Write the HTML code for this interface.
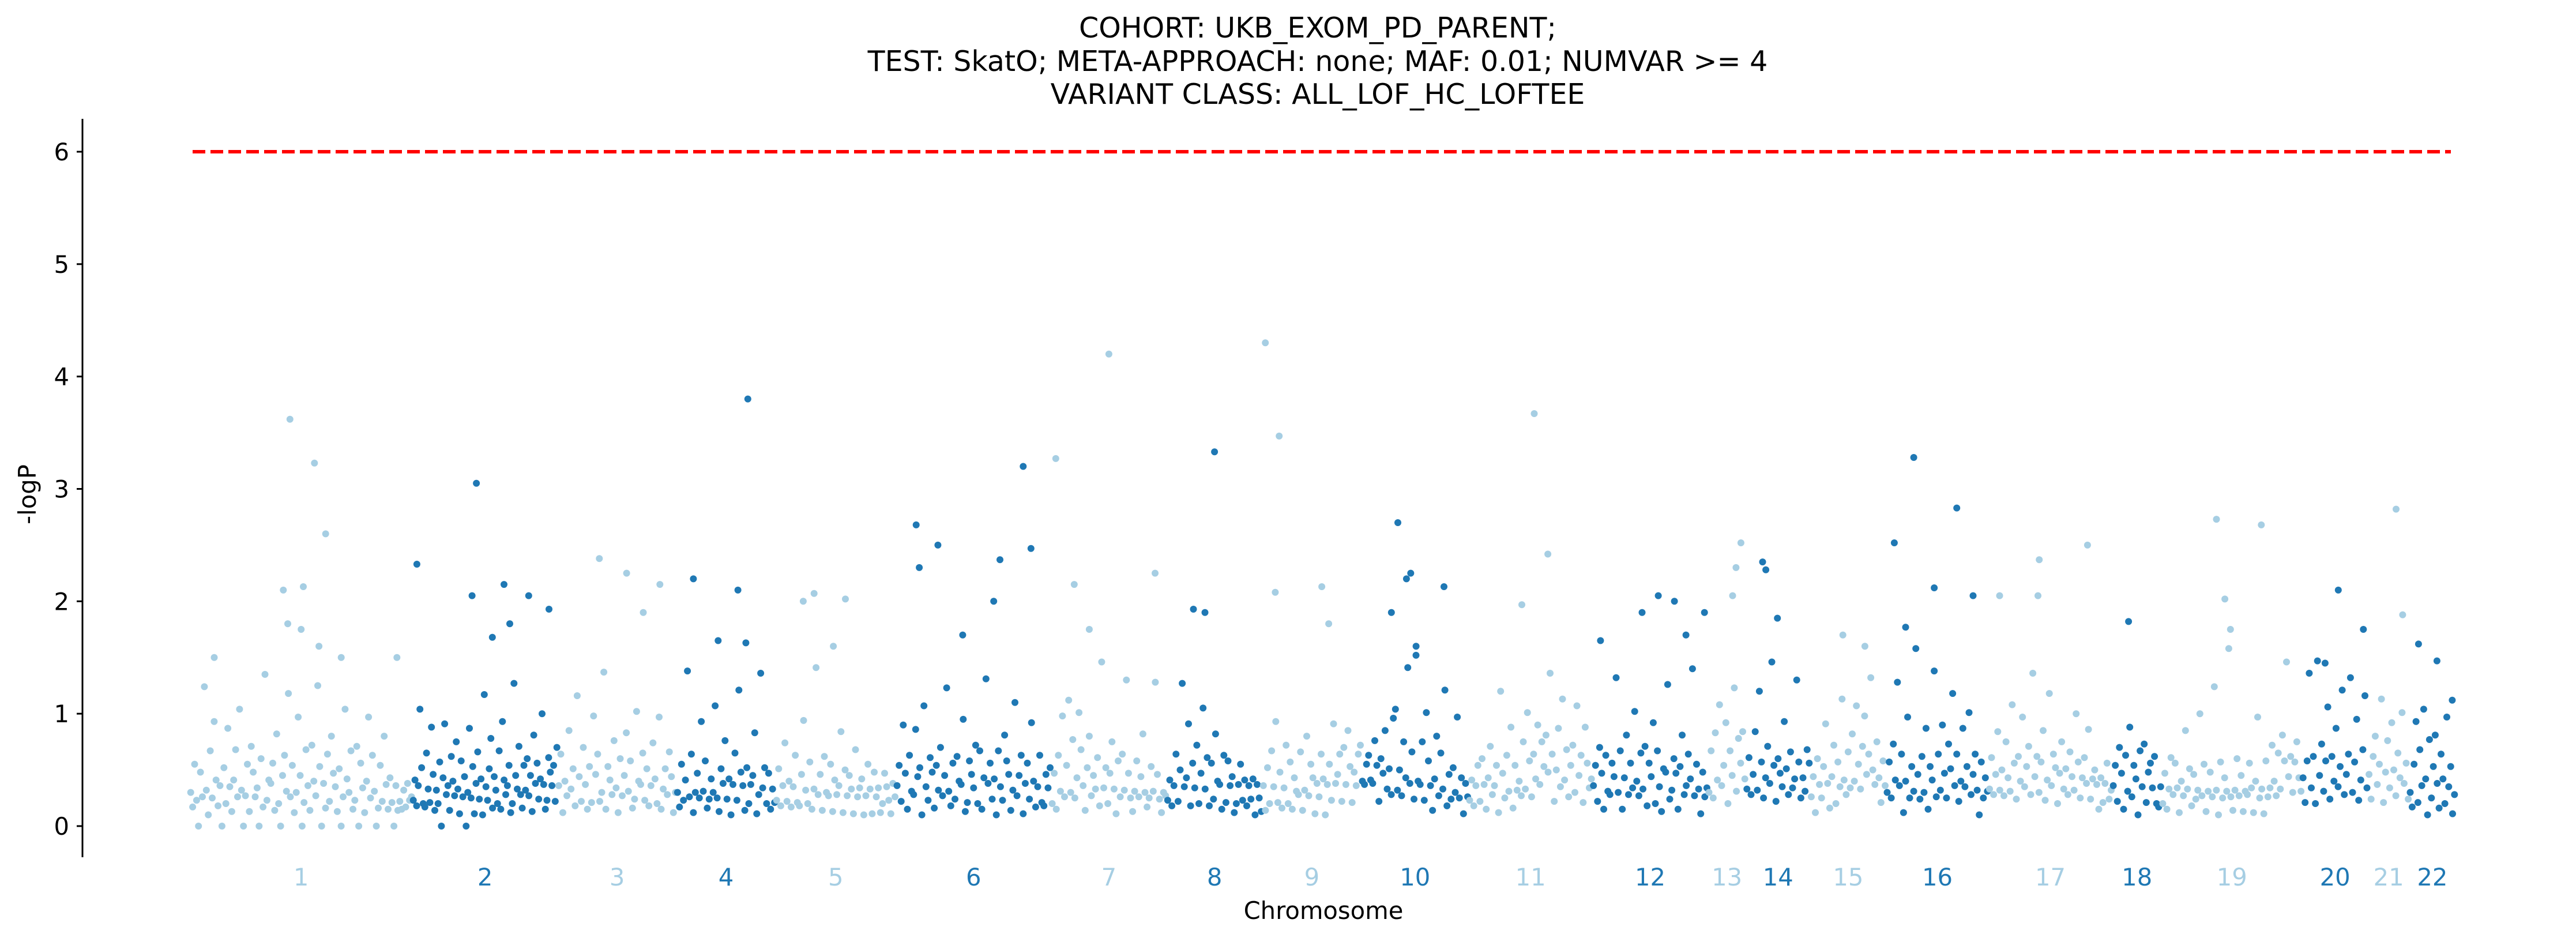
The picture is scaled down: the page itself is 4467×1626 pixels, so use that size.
<!DOCTYPE html>
<html><head><meta charset="utf-8">
<style>
html,body{margin:0;padding:0;background:#fff;}
svg{display:block;font-family:"DejaVu Sans","Liberation Sans",sans-serif;}
</style></head>
<body>
<svg id="chart" width="4467" height="1626" viewBox="0 0 4467 1626" xmlns="http://www.w3.org/2000/svg">
<g font-size="49" text-anchor="middle" fill="#000">
<text x="2285" y="65">COHORT: UKB_EXOM_PD_PARENT;</text>
<text x="2285" y="123">TEST: SkatO; META-APPROACH: none; MAF: 0.01; NUMVAR &gt;= 4</text>
<text x="2285" y="180">VARIANT CLASS: ALL_LOF_HC_LOFTEE</text>
</g>
<g id="points"></g>
<g id="axes"></g>
</svg>
<script>
const chromNames = ["1","2","3","4","5","6","7","8","9","10","11","12","13","14","15","16","17","18","19","20","21","22"];
const chromSizes = [135,88,72,60,73,94,70,58,60,65,75,70,23,39,46,62,75,30,85,40,25,28];
const yTicks = [0,1,2,3,4,5,6];
const threshold = 6;
const cloud1 = [.3,.1,.5,.2,0,.4,.2,1.2,.3,.1,.6,.2,.9,.4,.1,.3,0,.5,.2,.8,.3,.1,.4,.6,.2,1,.3,0,.2,.5,.1,.7,.4,.2,.3,0,.6,.1,1.3,.2,.4,.3,.5,.1,.8,.2,0,.4,.6,.3,1.1,.2,.5,.1,.3,.9,.4,0,.2,.6,.3,.1,.7,.4,.2,1.2,.5,0,.3,.1,.6,.2,.8,.4,.3,.1,.5,0,.2,1,.4,.3,.6,.1,.2,.7,0,.5,.3,.1,.4,.9,.2,.6,.3,0,.1,.5,.2,.8,.3,.1,.4,.2,0,.3,.1,.2,.15,.25,.12,.35,.22,.18];
const cloud2 = [.2,.4,.1,.3,1,.5,.2,.1,.6,.3,.2,.8,.4,.1,.3,.2,.5,0,.4,.9,.2,.3,.1,.6,.4,.2,.7,.3,.1,.5,.2,.4,0,.3,.8,.2,.5,.1,.3,.6,.2,.4,.1,1.1,.3,.2,.5,.7,.1,.4,.3,.2,.6,.1,.9,.4,.2,.3,.5,.1,.2,1.2,.4,.3,.7,.2,.1,.5,.3,.6,.2,.4,.1,.8,.3,.5,.2,.4,1,.3,.1,.2,.6,.4,.3,.5,.2,.7];
const cloud3 = [.3,.6,.1,.4,.2,.8,.3,.5,.1,1.1,.4,.2,.7,.3,.1,.5,.2,.9,.4,.6,.2,.3,1.3,.1,.5,.4,.2,.7,.3,.1,.6,.2,.4,.8,.3,.5,.1,.2,1,.4,.3,.6,.2,.5,.1,.3,.7,.4,.2,.9,.1,.3,.5,.2,.6,.4,.1,.3];
const cloud4 = [.3,.1,.5,.2,.4,1.3,.2,.6,.1,.3,.4,.2,.9,.3,.5,.1,.2,.4,.3,1,.2,.1,.5,.3,.7,.2,.4,.1,.3,.6,.2,1.2,.4,.3,.1,.5,.2,.3,.4,.8,.1,.2,1.3,.3,.5,.2,.4,.1,.3,.2];
const cloud5 = [.2,.5,.1,.3,.7,.2,.4,.1,.3,.6,.2,.1,.4,.9,.3,.2,.5,.1,.3,1.4,.2,.4,.1,.6,.3,.2,.5,.1,.4,.2,.3,.8,.1,.5,.2,.4,.3,.1,.6,.2,.3,.4,.1,.2,.5,.3,.1,.4,.2,.3,.1,.2,.4,.3,.2,.1,.3,.2];
const cloud6 = [.3,.5,.2,.9,.4,.1,.6,.3,.2,.8,.4,.5,.1,1,.3,.2,.6,.4,.1,.5,.3,.7,.2,.4,1.2,.3,.1,.5,.2,.6,.4,.3,.9,.1,.2,.5,.4,.3,.7,.2,.6,.1,.4,1.3,.3,.5,.2,.4,.1,.6,.3,.2,.8,.5,.4,.1,.3,1.1,.2,.4,.6,.1,.3,.5,.2,.9,.4,.1,.3,.6,.2,.1,.4,.3,.5];
const cloud7 = [.2,.4,.1,.6,.3,.9,.2,.5,1.1,.3,.7,.2,.4,1,.6,.3,.1,.5,.8,.2,.4,.3,.6,.1,1.4,.3,.5,.2,.4,.7,.3,.1,.5,.2,.6,.3,1.3,.4,.2,.1,.3,.5,.2,.4,.8,.3,.1,.2,.5,.3,1.2,.4,.2,.1,.3,.2];
const cloud8 = [.2,.4,.1,.3,.6,.2,.5,1.2,.3,.4,.9,.1,.5,.3,.7,.2,.4,1,.3,.6,.1,.5,.2,.8,.4,.3,.1,.6,.2,.5,.3,.4,.1,.2,.3,.5,.2,.4,.1,.3,.2,.4,.1,.3,.2,.1];
const cloud9 = [.3,.1,.5,.2,.6,.3,.9,.2,.4,.1,.3,.7,.2,.5,.1,.4,.3,.2,.6,.1,.3,.8,.2,.5,.4,.1,.3,.2,.6,.4,.1,.3,.5,.2,.9,.3,.4,.6,.2,.7,.3,.8,.5,.2,.4,.3,.6,.7];
const cloud10 = [.4,.3,.5,.6,.4,.3,.7,.5,.2,.6,.4,.8,.3,.5,.2,.9,1,.3,.5,.2,.7,.4,1.4,.3,.6,.2,1.5,.4,.3,.7,.2,1,.5,.3,.1,.4,.8,.2,.6,.3,1.2,.1,.4,.2,.5,.3,.9,.2,.4,.1,.3,.2];
const cloud11 = [.2,.4,.1,.3,.5,.2,.6,.3,.1,.4,.7,.2,.3,.5,.1,1.2,.4,.2,.6,.3,.8,.1,.5,.3,.4,.2,.7,.3,1,.5,.2,.6,.4,.9,.3,.7,.5,.8,.4,1.3,.6,.2,.5,.8,.3,1.1,.4,.6,.2,.5,.7,.3,1,.4,.6,.2,.8,.5,.3,.4];
const cloud12 = [.3,.5,.2,.7,.4,.1,.6,.3,.2,.5,.4,1.3,.3,.6,.1,.4,.8,.2,.5,.3,1,.4,.2,.6,.3,.7,.1,.5,.4,.9,.2,.6,.3,.1,.5,.4,1.2,.2,.3,.6,.4,.1,.5,.8,.2,.3,.6,.4,1.4,.2,.5,.3,.1,.4,.2,.3];
const cloud13 = [.3,.6,.2,.8,.4,1,.3,.5,.9,.2,.6,.4,1.2,.3,.7,.5,.8,.4];
const cloud14 = [.3,.6,.2,.4,.8,.3,1.2,.5,.2,.4,.7,.3,1.4,.5,.2,.6,.4,.3,.9,.5,.2,.6,.3,.4,1.3,.5,.2,.4,.3,.6,.5];
const cloud15 = [.2,.4,.1,.6,.3,.2,.5,.9,.3,.1,.4,.7,.2,.5,.3,1.1,.4,.2,.6,.3,.8,.4,1,.5,.3,.7,.9,.4,.6,1.3,.5,.3,.7,.4,.2,.5,.3];
const cloud16 = [.3,.5,.2,.7,.4,1.2,.3,.6,.1,.4,.9,.2,.5,.3,1.5,.4,.2,.6,.3,.8,.1,.5,.4,1.3,.2,.6,.3,.9,.4,.2,.7,.5,1.1,.3,.6,.2,.4,.8,.3,.5,1,.2,.4,.6,.3,.1,.5,.2,.4,.3];
const cloud17 = [.3,.6,.2,.4,.8,.3,.5,.2,.7,.4,.3,1,.5,.2,.6,.4,.9,.3,.5,.7,.2,1.3,.4,.6,.3,.5,.8,.2,.4,1.1,.3,.6,.5,.2,.4,.7,.3,.5,.2,.6,.4,.3,1,.5,.2,.4,.6,.3,.8,.2,.4,.5,.3,.1,.4,.2,.3,.5,.2,.3];
const cloud18 = [.3,.5,.2,.7,.4,.1,.6,.3,.8,.2,.5,.4,.1,.6,.3,.7,.2,.4,.5,.3,.6,.2,.1,.3];
const cloud19 = [.2,.4,.1,.3,.6,.2,.5,.3,.1,.4,.2,.8,.3,.5,.1,.4,.2,.3,1,.2,.5,.1,.3,.4,.2,1.2,.3,.1,.5,.2,.4,.3,1.5,.2,.1,.3,.6,.2,.4,.1,.3,.2,.5,.3,.1,.4,.9,.2,.3,.1,.5,.2,.3,.7,.4,.2,.6,.3,.8,.5,1.4,.4,.6,.3,.5,.7,.4,.3];
const cloud20 = [.4,.2,.5,1.3,.3,.6,.2,1.4,.4,.7,.3,.5,1,.2,.6,.4,.8,.3,.5,1.2,.2,.4,.6,1.3,.3,.5,.9,.2,.4,.6,1.1,.3];
const cloud21 = [.4,.2,.6,.8,.3,.5,1.1,.2,.4,.7,.3,.9,.5,.2,.6,.4,1,.3,.5,.2];
const cloud22 = [.3,.1,.5,.9,.2,.6,.3,1,.4,.1,.7,.2,.5,.8,.3,.1,.6,.4,.2,.9,.3,.5,.1,.2];
const clouds = [cloud1,cloud2,cloud3,cloud4,cloud5,cloud6,cloud7,cloud8,cloud9,cloud10,cloud11,cloud12,cloud13,cloud14,cloud15,cloud16,cloud17,cloud18,cloud19,cloud20,cloud21,cloud22];
const peakPos = [[11,42,44,45,50,51,56,58,61,68,93],[3,41,44,55,63,67,80,94],[35,58,72,86],[17,42,62,70,72],[23,32,48,58],[13,15,27,43,63,67,82,87],[4,20,33,50,90],[28,40,50],[3,13,17,60,67],[28,34,42,46,51,77],[43,53,64],[7,43,57,71,81,97],[65,74,87],[26,31,49],[43,72],[8,19,27,47,69,85],[9,40,41,80],[33],[39,45,49,71],[35,55,93],[68,84],[20,60,93]];
const peakVal = [[1.5,2.1,1.8,3.62,1.75,2.13,3.23,1.6,2.6,1.5,1.5],[2.33,2.05,3.05,1.68,2.15,1.8,2.05,1.93],[2.38,2.25,1.9,2.15],[2.2,1.65,2.1,1.63,3.8],[2.0,2.07,1.6,2.02],[2.68,2.3,2.5,1.7,2.0,2.37,3.2,2.47],[3.27,2.15,1.75,4.2,2.25],[1.93,1.9,3.33],[4.3,2.08,3.47,2.13,1.8],[1.9,2.7,2.2,2.25,1.6,2.13],[1.97,3.67,2.42],[1.65,1.9,2.05,2.0,1.7,1.9],[2.05,2.3,2.52],[2.35,2.28,1.85],[1.7,1.6],[2.52,1.77,3.28,2.12,2.83,2.05],[2.05,2.05,2.37,2.5],[1.82],[2.73,2.02,1.75,2.68],[1.45,2.1,1.75],[2.82,1.88],[1.62,1.47,1.12]];

const NS="http://www.w3.org/2000/svg";
const X0=329, X1=4258, Y0=1432, PXU=194.83;
const total = chromSizes.reduce((a,b)=>a+b,0);
function xScale(i){return X0+(X1-X0)*i/total;}
function yScale(v){return Y0-v*PXU;}
const light="#a6cee3", dark="#1f78b4";
const pts=document.getElementById('points');
const ax=document.getElementById('axes');
function mk(tag,attrs,parent){const e=document.createElementNS(NS,tag);for(const k in attrs)e.setAttribute(k,attrs[k]);parent.appendChild(e);return e;}
let start=0;
chromNames.forEach((name,ci)=>{
  const size=chromSizes[ci], col= ci%2===0?light:dark;
  const g=mk('g',{fill:col},pts);
  
  
  const c=clouds[ci];
  c.forEach((v,i)=>{
    const off = v>0 ? 0.01*((i*7+ci*3)%9) : 0;
    const e=mk('circle',{cx:xScale(start+size*(i+0.5)/c.length).toFixed(1),cy:yScale(v+off).toFixed(1),r:6},g);
    
    
  });
  peakPos[ci].forEach((p,j)=>{
    const e=mk('circle',{cx:xScale(start+size*p/100).toFixed(1),cy:yScale(peakVal[ci][j]).toFixed(1),r:6},g);
    
    
  });
  const t=mk('text',{x:xScale(start+size/2).toFixed(1),y:1535,'font-size':41.7,'text-anchor':'middle',fill:col},ax);
  t.textContent=name;
  
  
  start+=size;
});
const tl=mk('line',{x1:xScale(0)+5,x2:xScale(total)-8,y1:yScale(threshold),y2:yScale(threshold),stroke:'#ff0000','stroke-width':6,'stroke-dasharray':'22 9'},ax);


const sp=mk('line',{x1:143,x2:143,y1:206,y2:1486,stroke:'#000','stroke-width':3},ax);


yTicks.forEach(v=>{
  const tk=mk('line',{x1:133,x2:143,y1:yScale(v),y2:yScale(v),stroke:'#000','stroke-width':3},ax);
  
  
  const tx=mk('text',{x:120,y:yScale(v)+15,'font-size':41.7,'text-anchor':'end',fill:'#000'},ax);
  tx.textContent=String(v);
  
  
});
const xt=mk('text',{x:2295,y:1593,'font-size':41.7,'text-anchor':'middle',fill:'#000'},ax);
xt.textContent='Chromosome';


const yt=mk('text',{x:0,y:0,'font-size':41.7,'text-anchor':'middle',fill:'#000',transform:'translate(62,857) rotate(-90)'},ax);
yt.textContent='-logP';


</script>
</body></html>
